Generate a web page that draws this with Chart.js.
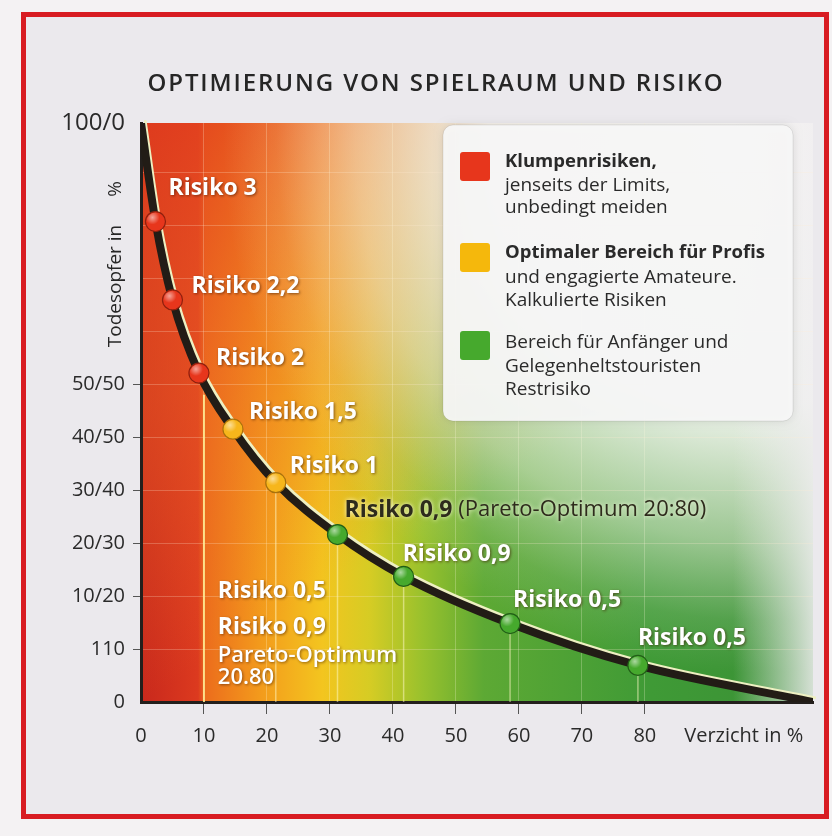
<!DOCTYPE html>
<html>
<head>
<meta charset="utf-8">
<script src="https://cdn.jsdelivr.net/npm/chart.js@4.4.1/dist/chart.umd.min.js"></script>
<style>
  html, body { margin: 0; padding: 0; background: #f4f2f3; }
  #wrap { width: 832px; height: 836px; }
</style>
</head>
<body>
<div id="wrap"><canvas id="riskChart"></canvas></div>
<script>
const titleText = 'Optimierung von Spielraum und Risiko';
const yTitle = 'Todesopfer in';
const yTitleUnit = '%';

// risk points on the curve: x = Verzicht in %, y = Todesopfer axis
const riskX = [2.3, 5.0, 9.2, 14.6, 21.4, 31.2, 41.7, 58.6, 78.9];
const riskY = [90.7, 75.9, 62.1, 51.5, 41.4, 31.6, 23.7, 14.8, 6.9];
const riskLabels = ['Risiko 3', 'Risiko 2,2', 'Risiko 2', 'Risiko 1,5', 'Risiko 1',
                    'Risiko 0,9', 'Risiko 0,9', 'Risiko 0,5', 'Risiko 0,5'];
const riskZone = ['red', 'red', 'red', 'yellow', 'yellow', 'green', 'green', 'green', 'green'];
const paretoIndex = 5;
const paretoNote = ' (Pareto-Optimum 20:80)';

// where the curve starts and ends
const curveStart = [0, 109.3];
const curveEnd = [106.7, 0];

const xTickValues = [0, 10, 20, 30, 40, 50, 60, 70, 80, 95.7];
const xTickLabels = ['0', '10', '20', '30', '40', '50', '60', '70', '80', 'Verzicht in %'];
const yTickValues = [0, 10, 20, 30, 40, 50, 60, 70, 80, 90, 100, 109.3];
const yTickLabels = ['0', '110', '10/20', '20/30', '30/40', '40/50', '50/50', '', '', '', '', '100/0'];

const legendColors = ['red', 'yellow', 'green'];
const legendLines = [
  ['Klumpenrisiken,', 'jenseits der Limits,', 'unbedingt meiden'],
  ['Optimaler Bereich für Profis', 'und engagierte Amateure.', 'Kalkulierte Risiken'],
  ['Bereich für Anfänger und', 'Gelegenheltstouristen', 'Restrisiko']
];
const legendBoldFirst = [true, true, false];

const sideNotes = ['Risiko 0,5', 'Risiko 0,9', 'Pareto-Optimum', '20.80'];
const sideNoteX = 12.2;
const sideNoteY = [20.9, 14.0, 8.7, 4.6];
const zoneBoundaryX = 10;

const zoneFill = { red: '#e7361c', yellow: '#f7b61b', green: '#46a92d' };
const zoneEdge = { red: '#8f200e', yellow: '#a9710c', green: '#225e17' };
const FONT = "'Open Sans', sans-serif";

const curveData = [{ x: curveStart[0], y: curveStart[1] }]
  .concat(riskX.map((x, i) => ({ x: x, y: riskY[i] })))
  .concat([{ x: curveEnd[0], y: curveEnd[1] }]);
const pointData = riskX.map((x, i) => ({ x: x, y: riskY[i] }));

// page frame + coloured zones behind the grid
const backdrop = {
  id: 'backdrop',
  beforeDraw(chart) {
    const { ctx, width, height, chartArea: a } = chart;
    ctx.save();
    ctx.fillStyle = '#f4f2f3';
    ctx.fillRect(0, 0, width, height);
    ctx.fillStyle = '#ebe9ed';
    ctx.fillRect(23, 14, 804, 803);
    ctx.strokeStyle = '#d81c22';
    ctx.lineWidth = 5;
    ctx.strokeRect(23.5, 14.5, 803, 802);

    const w = a.right - a.left, h = a.bottom - a.top;
    const g = ctx.createLinearGradient(a.left, 0, a.right, 0);
    g.addColorStop(0, '#c8281c');
    g.addColorStop(0.085, '#dc3a1f');
    g.addColorStop(0.096, '#ec6d1c');
    g.addColorStop(0.18, '#f39c1c');
    g.addColorStop(0.27, '#f3c51f');
    g.addColorStop(0.34, '#d6cc24');
    g.addColorStop(0.42, '#98c12d');
    g.addColorStop(0.51, '#5da934');
    g.addColorStop(0.76, '#3f9a36');
    g.addColorStop(1, '#3a9036');
    ctx.fillStyle = g;
    ctx.fillRect(a.left, a.top, w, h);

    // red-orange tint towards the top left
    const t = ctx.createLinearGradient(a.left, a.top, a.left + 260, a.top + 420);
    t.addColorStop(0, 'rgba(226,62,30,0.85)');
    t.addColorStop(0.5, 'rgba(236,100,36,0.45)');
    t.addColorStop(1, 'rgba(240,120,40,0)');
    ctx.fillStyle = t;
    ctx.fillRect(a.left, a.top, w, h);

    const cx = a.right - 60, cy = a.top + 20;
    const r = ctx.createRadialGradient(cx, cy, 0, cx, cy, 530);
    r.addColorStop(0, 'rgba(252,250,250,0.98)');
    r.addColorStop(0.5, 'rgba(252,250,250,0.92)');
    r.addColorStop(0.75, 'rgba(252,248,240,0.5)');
    r.addColorStop(0.9, 'rgba(252,248,240,0.12)');
    r.addColorStop(1, 'rgba(252,248,240,0)');
    ctx.fillStyle = r;
    ctx.fillRect(a.left, a.top, w, h);

    const e = ctx.createLinearGradient(a.right - 80, 0, a.right, 0);
    e.addColorStop(0, 'rgba(240,238,240,0)');
    e.addColorStop(1, 'rgba(240,238,240,0.85)');
    ctx.fillStyle = e;
    ctx.fillRect(a.right - 80, a.top, 80, h);
    ctx.restore();
  },
  beforeDatasetsDraw(chart) {
    const { ctx, scales: { x, y } } = chart;
    ctx.save();
    ctx.strokeStyle = 'rgba(255,240,150,0.85)';
    ctx.lineWidth = 2;
    ctx.beginPath();
    ctx.moveTo(x.getPixelForValue(zoneBoundaryX), y.getPixelForValue(58));
    ctx.lineTo(x.getPixelForValue(zoneBoundaryX), y.getPixelForValue(0));
    ctx.stroke();
    ctx.strokeStyle = 'rgba(255,250,200,0.5)';
    ctx.lineWidth = 1.5;
    for (let i = 4; i < riskX.length; i++) {
      const px = x.getPixelForValue(riskX[i]);
      ctx.beginPath();
      ctx.moveTo(px, y.getPixelForValue(riskY[i]));
      ctx.lineTo(px, y.getPixelForValue(0));
      ctx.stroke();
    }
    ctx.restore();
  },
  // light rim drawn slightly up/right of the dark curve
  beforeDatasetDraw(chart, args) {
    if (args.index === 2) {
      chart.ctx.save();
      chart.ctx.translate(3, -3);
    }
  },
  afterDatasetDraw(chart, args) {
    if (args.index === 2) chart.ctx.restore();
  }
};

function rounded(ctx, x, y, w, h, r) {
  ctx.beginPath();
  ctx.moveTo(x + r, y);
  ctx.arcTo(x + w, y, x + w, y + h, r);
  ctx.arcTo(x + w, y + h, x, y + h, r);
  ctx.arcTo(x, y + h, x, y, r);
  ctx.arcTo(x, y, x + w, y, r);
  ctx.closePath();
}

const labelOffsets = [[13, -33], [19, -13.5], [17, -15], [16, -17], [14, -16],
                      [7, -24.5], [-1, -22], [3, -23.5], [0, -27]];

const annotations = {
  id: 'annotations',
  afterDraw(chart) {
    const { ctx, scales: { x, y } } = chart;
    ctx.save();

    // title
    ctx.fillStyle = '#262626';
    ctx.textAlign = 'center';
    ctx.textBaseline = 'alphabetic';
    ctx.font = '600 24px ' + FONT;
    ctx.letterSpacing = '1.9px';
    ctx.fillText(titleText.toUpperCase(), 436, 91);
    ctx.letterSpacing = '0px';

    // y axis title
    ctx.save();
    ctx.translate(121, 0);
    ctx.rotate(-Math.PI / 2);
    ctx.font = '19px ' + FONT;
    ctx.textBaseline = 'alphabetic';
    ctx.textAlign = 'center';
    ctx.fillText(yTitle, -286, 0);
    ctx.fillText(yTitleUnit, -189, 0);
    ctx.restore();

    // point highlights
    pointData.forEach((p) => {
      const px = x.getPixelForValue(p.x), py = y.getPixelForValue(p.y);
      const hg = ctx.createRadialGradient(px - 3, py - 4, 0, px - 3, py - 4, 7);
      hg.addColorStop(0, 'rgba(255,255,255,0.55)');
      hg.addColorStop(1, 'rgba(255,255,255,0)');
      ctx.fillStyle = hg;
      ctx.beginPath();
      ctx.arc(px, py, 9, 0, Math.PI * 2);
      ctx.fill();
    });

    // point labels
    ctx.textAlign = 'left';
    ctx.textBaseline = 'middle';
    riskLabels.forEach((txt, i) => {
      const px = x.getPixelForValue(riskX[i]) + labelOffsets[i][0];
      const py = y.getPixelForValue(riskY[i]) + labelOffsets[i][1];
      ctx.font = 'bold 23px ' + FONT;
      if (i === paretoIndex) {
        ctx.shadowColor = 'rgba(255,255,230,0.9)';
        ctx.shadowBlur = 4;
        ctx.fillStyle = '#2e2b1c';
        ctx.fillText(txt, px, py);
        const wBold = ctx.measureText(txt).width;
        ctx.font = '22px ' + FONT;
        ctx.fillText(paretoNote, px + wBold, py);
      } else {
        ctx.shadowColor = 'rgba(60,20,0,0.6)';
        ctx.shadowBlur = 3;
        ctx.shadowOffsetX = 1;
        ctx.shadowOffsetY = 1;
        ctx.fillStyle = '#ffffff';
        ctx.fillText(txt, px, py);
      }
      ctx.shadowOffsetX = 0;
      ctx.shadowOffsetY = 0;
    });

    // notes in the lower left
    ctx.shadowColor = 'rgba(60,20,0,0.55)';
    ctx.shadowBlur = 3;
    ctx.shadowOffsetX = 1;
    ctx.shadowOffsetY = 1;
    ctx.fillStyle = '#ffffff';
    sideNotes.forEach((txt, i) => {
      ctx.font = (i < 2 ? 'bold 23px ' : '600 22px ') + FONT;
      ctx.fillText(txt, x.getPixelForValue(sideNoteX), y.getPixelForValue(sideNoteY[i]));
    });
    ctx.shadowColor = 'transparent';
    ctx.shadowOffsetX = 0;
    ctx.shadowOffsetY = 0;

    // legend box
    ctx.shadowColor = 'rgba(0,0,0,0.12)';
    ctx.shadowBlur = 8;
    ctx.fillStyle = 'rgba(248,247,248,0.93)';
    rounded(ctx, 443, 125, 350, 296, 10);
    ctx.fill();
    ctx.shadowColor = 'transparent';
    ctx.strokeStyle = 'rgba(0,0,0,0.08)';
    ctx.lineWidth = 1;
    ctx.stroke();

    const boxY = [152, 243, 331];
    const lineY = [[167, 191, 213], [258, 283, 306], [348, 372, 395]];
    ctx.textBaseline = 'alphabetic';
    legendLines.forEach((lines, i) => {
      ctx.fillStyle = i === 1 ? '#f5b80c' : zoneFill[legendColors[i]];
      rounded(ctx, 460, boxY[i], 30, 29, 3);
      ctx.fill();
      ctx.fillStyle = '#2a2a2a';
      lines.forEach((t, j) => {
        ctx.font = (j === 0 && legendBoldFirst[i] ? 'bold 18.5px ' : '19px ') + FONT;
        ctx.fillText(t, 505, lineY[i][j]);
      });
    });
    ctx.restore();
  }
};

const lastX = xTickValues.length - 1;
const lastY = yTickValues.length - 1;

new Chart(document.getElementById('riskChart'), {
  type: 'scatter',
  data: {
    datasets: [
      {
        label: 'Risiko',
        data: pointData,
        showLine: false,
        pointRadius: 10,
        pointHoverRadius: 10,
        pointBackgroundColor: riskZone.map(z => zoneFill[z]),
        pointBorderColor: riskZone.map(z => zoneEdge[z]),
        pointBorderWidth: 1.2
      },
      {
        label: 'Kurve',
        data: curveData,
        showLine: true,
        borderColor: '#221c16',
        borderWidth: 8,
        pointRadius: 0,
        cubicInterpolationMode: 'monotone'
      },
      {
        label: 'Kurve hell',
        data: curveData,
        showLine: true,
        borderColor: '#eef0c2',
        borderWidth: 5,
        pointRadius: 0,
        cubicInterpolationMode: 'monotone'
      }
    ]
  },
  options: {
    responsive: true,
    maintainAspectRatio: false,
    animation: false,
    layout: { padding: { left: 0, right: 19, top: 123, bottom: 74 } },
    plugins: {
      legend: { display: false },
      tooltip: { enabled: false },
      title: { display: false }
    },
    scales: {
      x: {
        type: 'linear',
        min: 0,
        max: curveEnd[0],
        afterBuildTicks: s => { s.ticks = xTickValues.map(v => ({ value: v })); },
        afterFit: s => { s.height = 60; },
        border: { color: '#231f1c', width: 3 },
        grid: {
          color: c => (c.index === 0 || c.index === lastX) ? 'transparent' : 'rgba(255,250,225,0.25)',
          tickColor: c => (c.index === 0 || c.index === lastX) ? 'transparent' : '#555',
          tickLength: 12,
          lineWidth: 1
        },
        ticks: {
          autoSkip: false,
          maxRotation: 0,
          padding: 10,
          color: '#2a2a2a',
          font: { family: FONT, size: 20 },
          callback: (v, i) => xTickLabels[i]
        }
      },
      y: {
        type: 'linear',
        min: 0,
        max: curveStart[1],
        afterBuildTicks: s => { s.ticks = yTickValues.map(v => ({ value: v })); },
        afterFit: s => { s.width = 141; },
        border: { color: '#231f1c', width: 3 },
        grid: {
          color: c => (c.index === 0 || c.index === lastY) ? 'transparent' : 'rgba(255,235,210,0.25)',
          tickColor: c => (yTickLabels[c.index] && c.index !== lastY && c.index !== 0) ? '#555' : 'transparent',
          tickLength: 8,
          lineWidth: 1
        },
        ticks: {
          autoSkip: false,
          padding: 8,
          color: '#2a2a2a',
          font: c => ({ family: FONT, size: c.index === lastY ? 24 : 20 }),
          callback: (v, i) => yTickLabels[i]
        }
      }
    }
  },
  plugins: [backdrop, annotations]
});
</script>
</body>
</html>
